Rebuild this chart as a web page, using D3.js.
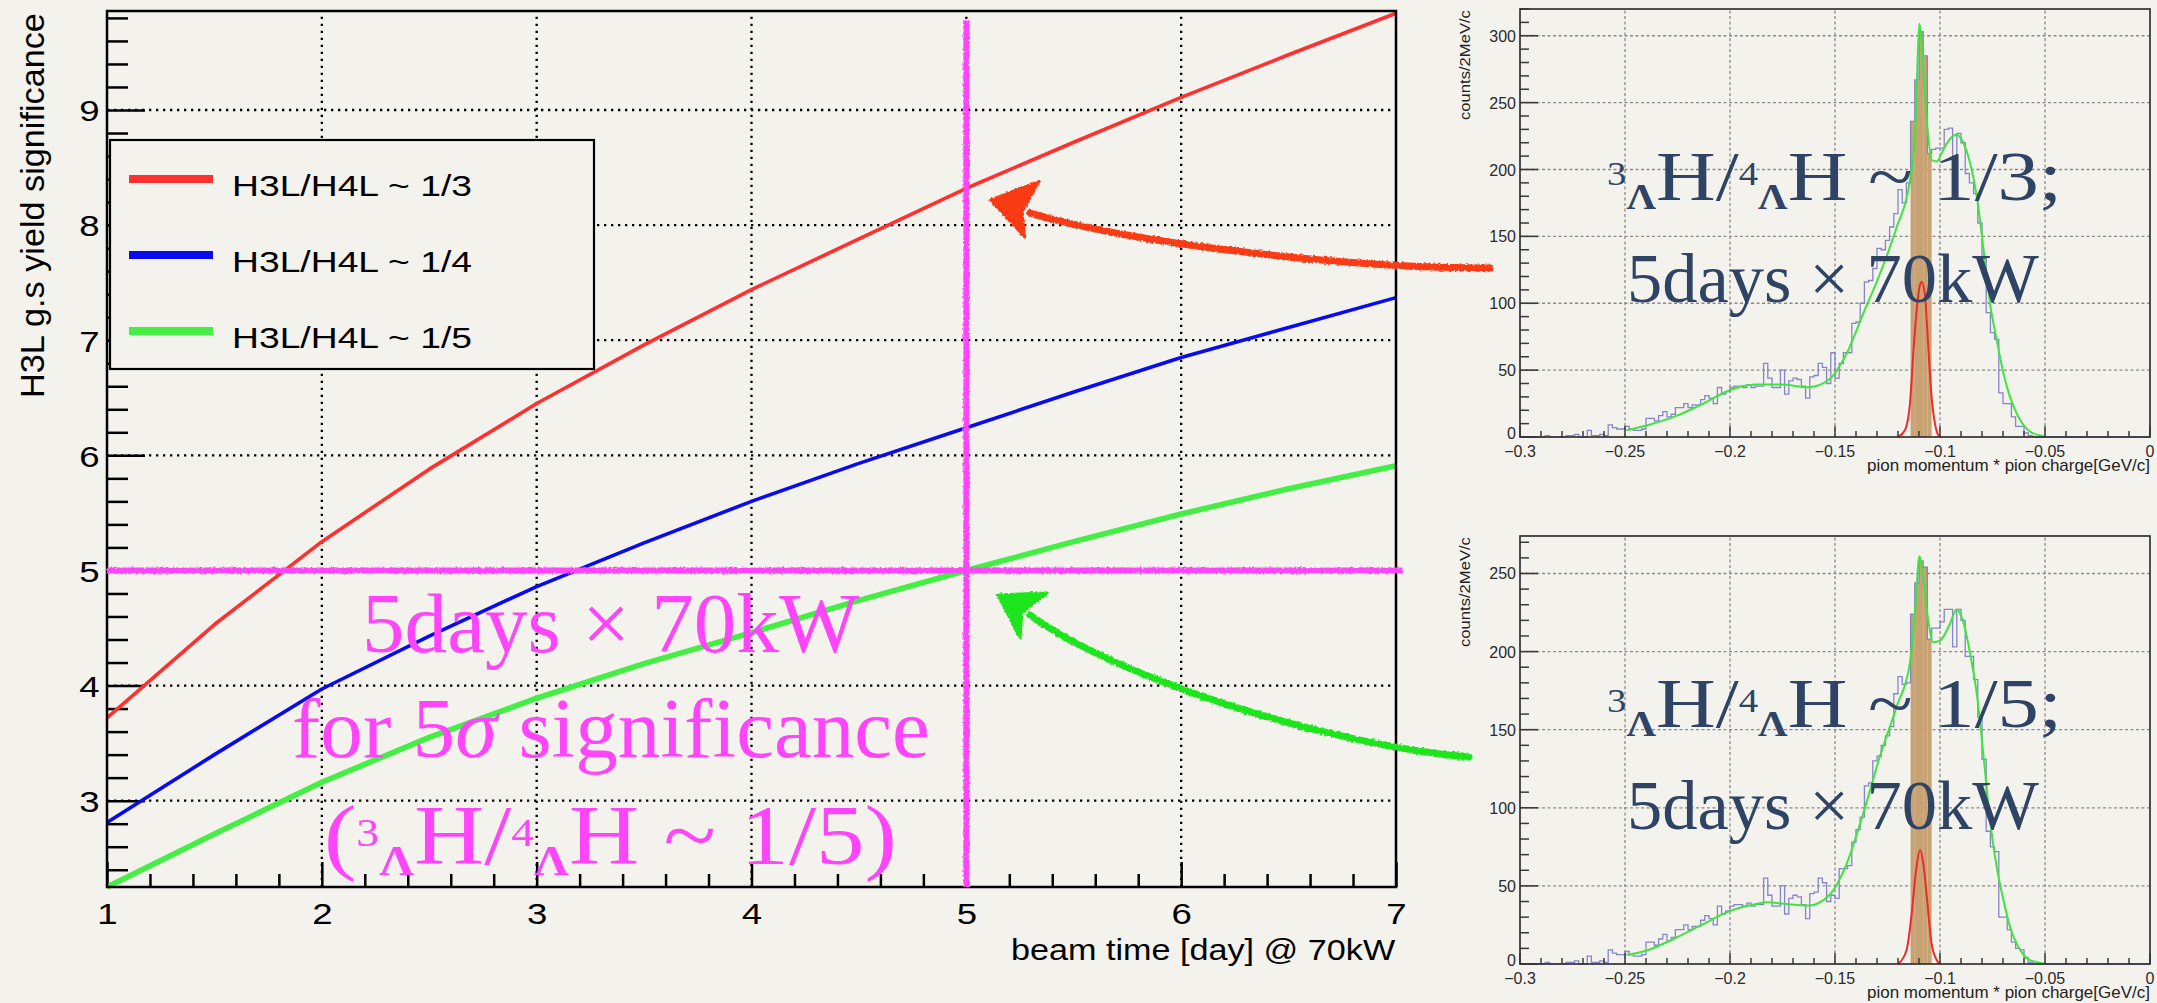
<!DOCTYPE html>
<html>
<head>
<meta charset="utf-8">
<script src="https://cdn.jsdelivr.net/npm/d3@7"></script>
<style>
  html, body { margin: 0; padding: 0; background: #f4f2ed; }
  svg { display: block; }
</style>
</head>
<body>
<svg id="chart" width="2157" height="1003"></svg>
<script>
// ---------------- significance vs beam time ----------------
const beamDays   = [1, 1.5, 2, 2.5, 3, 3.5, 4, 4.5, 5, 5.5, 6, 6.5, 7];
const sigRatio3  = [3.72, 4.53, 5.25, 5.88, 6.45, 6.96, 7.44, 7.88, 8.32, 8.72, 9.11, 9.48, 9.84];
const sigRatio4  = [2.81, 3.40, 3.97, 4.43, 4.86, 5.24, 5.60, 5.93, 6.24, 6.55, 6.85, 7.11, 7.37];
const sigRatio5  = [2.25, 2.71, 3.16, 3.55, 3.89, 4.19, 4.46, 4.74, 5.00, 5.25, 5.49, 5.71, 5.91];
const seriesLabels = ["H3L/H4L ~ 1/3", "H3L/H4L ~ 1/4", "H3L/H4L ~ 1/5"];
const dayTicks = [1, 2, 3, 4, 5, 6, 7];
const sigTicks = [3, 4, 5, 6, 7, 8, 9];
const targetDays = 5;
const targetSig = 5;

// ---------------- pion momentum spectra (2 MeV/c bins from -0.3 GeV/c) ----------------
const momStart = -0.3;
const momBin = 0.002;
const countsTop = [
  0,0,0,0,0,0,1,0,0,0,
  0,1,1,2,0,0,5,1,1,2,
  1,9,7,6,6,8,6,5,5,6,
  14,14,12,16,19,15,17,22,22,25,
  22,24,24,28,31,29,25,37,32,34,
  37,38,38,37,39,37,38,38,55,44,
  37,37,50,32,42,44,43,38,29,45,
  46,55,52,40,63,44,55,63,63,85,
  86,100,116,117,126,141,140,147,157,167,
  185,175,190,236,267,303,285,212,215,216,
  216,230,231,200,227,220,197,190,182,160,
  135,93,78,73,33,25,25,15,8,8,
  3,1,0,0,0,0,0,0,0,0,
  0,0,0,0,0,0,0,0,0,0,
  0,0,0,0,0,0,0,0,0,0
];
const countsBottom = [
  0,0,0,0,0,0,1,0,0,0,
  0,1,1,2,0,0,5,1,1,2,
  1,9,7,6,6,8,6,5,5,6,
  14,14,12,16,19,15,17,22,22,25,
  22,24,24,28,31,29,25,37,32,34,
  37,38,38,37,39,37,38,38,55,44,
  37,37,50,32,42,44,43,38,29,45,
  46,55,52,40,44,42,61,61,63,78,
  86,94,114,116,130,133,140,146,152,173,
  184,179,180,224,244,258,254,208,215,215,
  219,227,227,203,227,220,197,197,182,158,
  131,85,75,72,30,30,22,14,10,9,
  4,1,0,0,0,0,0,0,0,0,
  0,0,0,0,0,0,0,0,0,0,
  0,0,0,0,0,0,0,0,0,0
];
// selected signal window (GeV/c)
const signalWindow = [-0.114, -0.104];

// total fit curves [momentum, counts]
const fitTop = [
  [-0.2492,5.1],[-0.2389,9],[-0.2262,15.4],[-0.2135,24.4],[-0.2008,34.6],[-0.1881,39.2],
  [-0.1754,39.2],[-0.1627,37.2],[-0.1528,43],[-0.1444,62.6],[-0.1365,92.5],[-0.1286,122],
  [-0.1206,157],[-0.1143,192],[-0.1119,225],[-0.1103,296],[-0.1098,309],[-0.1090,300],
  [-0.1075,262],[-0.1063,237],[-0.1039,207],[-0.1016,206],[-0.0984,215],[-0.0952,223],
  [-0.0921,226],[-0.0889,220],[-0.0857,205],[-0.0825,180],[-0.0794,142],[-0.0762,100],
  [-0.0730,72.6],[-0.0698,47.6],[-0.0667,30],[-0.0635,17.7],[-0.0603,9],[-0.0571,4],[-0.0508,0.7]
];
const fitBottom = [
  [-0.2492,5.8],[-0.2389,9],[-0.2262,16.5],[-0.2135,25],[-0.2008,33.5],[-0.1881,38.2],
  [-0.1817,39.5],[-0.1754,38.7],[-0.1627,37.4],[-0.1528,44],[-0.1448,63],[-0.1365,96.6],
  [-0.1286,133],[-0.1206,165],[-0.1143,193],[-0.1119,225],[-0.1098,261],[-0.1087,255],
  [-0.1063,227],[-0.1032,206],[-0.1000,207],[-0.0952,218],[-0.0921,227],[-0.0889,219],
  [-0.0857,199],[-0.0825,173],[-0.0794,135],[-0.0762,92],[-0.0730,62],[-0.0698,41],
  [-0.0667,24],[-0.0635,13],[-0.0603,6],[-0.0571,2.5],[-0.0508,0.4]
];
// hypertriton signal component [momentum, counts]
const signalTop = [
  [-0.1200,0],[-0.1167,5],[-0.1143,25],[-0.1127,63],[-0.1111,95],[-0.1095,114],[-0.1087,116],
  [-0.1071,105],[-0.1056,68],[-0.1040,30],[-0.1024,10],[-0.1008,1.5],[-0.0995,0]
];
const signalBottom = [
  [-0.1200,0],[-0.1159,9],[-0.1135,32],[-0.1114,60],[-0.1095,73],[-0.1079,64],
  [-0.1060,39],[-0.1040,13],[-0.1016,2.6],[-0.1000,0]
];
const momTicks = [-0.3, -0.25, -0.2, -0.15, -0.1, -0.05, 0];
const momTickLabels = ["\u22120.3", "\u22120.25", "\u22120.2", "\u22120.15", "\u22120.1", "\u22120.05", "0"];
const countTicksTop = [0, 50, 100, 150, 200, 250, 300];
const countTicksBottom = [0, 50, 100, 150, 200, 250];

// ---------------- drawing ----------------
const W = 2157, H = 1003;
const BG = "#f4f2ed";
const SANS = "'Liberation Sans', Arial, Helvetica, sans-serif";
const SERIF = "'Liberation Serif', 'Times New Roman', serif";
const svg = d3.select("#chart");
svg.append("rect").attr("width", W).attr("height", H).attr("fill", BG);

const defs = svg.append("defs");
const rough = defs.append("filter").attr("id", "rough")
  .attr("filterUnits", "userSpaceOnUse").attr("x", 0).attr("y", 0).attr("width", W).attr("height", H);
rough.append("feTurbulence").attr("type", "fractalNoise").attr("baseFrequency", 0.45)
  .attr("numOctaves", 2).attr("seed", 5).attr("result", "noise");
rough.append("feDisplacementMap").attr("in", "SourceGraphic").attr("in2", "noise")
  .attr("scale", 3.5).attr("xChannelSelector", "R").attr("yChannelSelector", "G");

// text placed from its left edge and stretched to a given width
function fitText(parent, x0, yb, width, build) {
  const g = parent.append("g");
  const t = g.append("text").attr("x", 0).attr("y", 0);
  build(t);
  const w = t.node().getBBox().width;
  g.attr("transform", `translate(${x0},${yb}) scale(${width / w},1)`);
  return t;
}
// isotope notation with super/subscripts
function richText(t, segs, F) {
  let level = 0;
  segs.forEach(seg => {
    const target = seg.k === "sup" ? -0.21 * F : seg.k === "sub" ? 0.13 * F : 0;
    const ts = t.append("tspan").text(seg.s).attr("dy", target - level);
    level = target;
    if (seg.k === "sup") ts.attr("font-size", 0.47 * F);
    if (seg.k === "sub") ts.attr("font-size", 0.5 * F).attr("font-weight", "bold");
    if (seg.k === "it") ts.attr("font-style", "italic");
  });
}
function isotopeSegs(prefix, ratio, suffix) {
  return [
    ...(prefix ? [{ s: prefix }] : []),
    { s: "3", k: "sup" }, { s: "\u039B", k: "sub" }, { s: "H/" },
    { s: "4", k: "sup" }, { s: "\u039B", k: "sub" }, { s: "H ~ " + ratio + suffix }
  ];
}

// ===== main graph =====
const x = d3.scaleLinear().domain([1, 7]).range([107, 1396]);
const y = d3.scaleLinear().domain([2.25, 9.86]).range([887, 11]);
const main = svg.append("g");

// dotted grid
main.append("g").selectAll("line").data(dayTicks.slice(1, -1)).join("line")
  .attr("x1", d => x(d)).attr("x2", d => x(d)).attr("y1", y(2.25)).attr("y2", y(9.86))
  .attr("stroke", "#000").attr("stroke-width", 2.3).attr("stroke-dasharray", "2.3 4.7");
main.append("g").selectAll("line").data(sigTicks).join("line")
  .attr("x1", x(1)).attr("x2", x(7)).attr("y1", d => y(d)).attr("y2", d => y(d))
  .attr("stroke", "#000").attr("stroke-width", 2.3).attr("stroke-dasharray", "2.3 4.7");

// axes (ticks pointing inward)
const minorDays = d3.range(1, 7.0001, 0.2).filter(v => Math.abs(v - Math.round(v)) > 1e-6);
const minorSig = d3.range(2.4, 9.86, 0.2).filter(v => Math.abs(v - Math.round(v)) > 1e-6);
function styleAxis(g) {
  g.select(".domain").remove();
  g.selectAll("line").attr("stroke", "#000").attr("stroke-width", 2.5);
}
const gxMinor = main.append("g").attr("transform", `translate(0,${y(2.25)})`)
  .call(d3.axisBottom(x).tickValues(minorDays).tickSizeInner(-13).tickSizeOuter(0).tickFormat(""));
styleAxis(gxMinor);
const gx = main.append("g").attr("transform", `translate(0,${y(2.25)})`)
  .call(d3.axisBottom(x).tickValues(dayTicks).tickSizeInner(-25).tickSizeOuter(0).tickPadding(16).tickFormat(d3.format("d")));
styleAxis(gx);
gx.selectAll("text").attr("font-family", SANS).attr("font-size", 30).attr("fill", "#000")
  .attr("transform", "scale(1.22,1)");
const gyMinor = main.append("g").attr("transform", `translate(${x(1)},0)`)
  .call(d3.axisLeft(y).tickValues(minorSig).tickSizeInner(-21).tickSizeOuter(0).tickFormat(""));
styleAxis(gyMinor);
const gy = main.append("g").attr("transform", `translate(${x(1)},0)`)
  .call(d3.axisLeft(y).tickValues(sigTicks).tickSizeInner(-38).tickSizeOuter(0).tickPadding(6).tickFormat(d3.format("d")));
styleAxis(gy);
gy.selectAll("text").attr("font-family", SANS).attr("font-size", 30).attr("fill", "#000")
  .attr("dy", "0.36em").attr("transform", "scale(1.22,1)");

// curves
const series = [
  { vals: sigRatio3, color: "#ff3030", width: 3.6 },
  { vals: sigRatio4, color: "#0a0aee", width: 3.6 },
  { vals: sigRatio5, color: "#44ee44", width: 5.6 }
];
const line = d3.line().x(d => x(d[0])).y(d => y(d[1]));
main.append("g").selectAll("path").data(series).join("path")
  .attr("d", s => line(beamDays.map((d, i) => [d, s.vals[i]])))
  .attr("fill", "none").attr("stroke", s => s.color).attr("stroke-width", s => s.width)
  .attr("stroke-linejoin", "round");

// frame
main.append("rect").attr("x", x(1)).attr("y", y(9.86)).attr("width", x(7) - x(1)).attr("height", y(2.25) - y(9.86))
  .attr("fill", "none").attr("stroke", "#000").attr("stroke-width", 2.5);

// axis titles
fitText(main, 1011, 960, 385, t => t.text("beam time [day] @ 70kW")
  .attr("font-family", SANS).attr("font-size", 29).attr("fill", "#000"));
{
  const g = main.append("g");
  const t = g.append("text").attr("x", 0).attr("y", 0).text("H3L g.s yield significance")
    .attr("font-family", SANS).attr("font-size", 33).attr("fill", "#000");
  const w = t.node().getBBox().width;
  g.attr("transform", `translate(44,${13 + 385}) rotate(-90) scale(${385 / w},1)`);
}

// legend
const legend = main.append("g");
legend.append("rect").attr("x", 110).attr("y", 140).attr("width", 484).attr("height", 229)
  .attr("fill", BG).attr("stroke", "#000").attr("stroke-width", 2.2);
series.forEach((s, i) => {
  const ly = 179 + i * 76;
  legend.append("line").attr("x1", 129).attr("x2", 213).attr("y1", ly).attr("y2", ly)
    .attr("stroke", s.color).attr("stroke-width", 8);
  fitText(legend, 232, ly + 17, 240, t => t.text(seriesLabels[i])
    .attr("font-family", SANS).attr("font-size", 30).attr("fill", "#000"));
});

// 5 sigma / 5 days guide lines
const MAG = "#ff45fb";
const guides = main.append("g").attr("filter", "url(#rough)");
guides.append("line").attr("x1", x(1)).attr("x2", x(7.03)).attr("y1", y(targetSig)).attr("y2", y(targetSig))
  .attr("stroke", MAG).attr("stroke-width", 6);
guides.append("line").attr("x1", x(targetDays)).attr("x2", x(targetDays)).attr("y1", y(2.25)).attr("y2", y(9.78))
  .attr("stroke", MAG).attr("stroke-width", 6);

// overlay statement
const MF = 84;
fitText(main, 362, 652, 498, t => t.text("5days \u00D7 70kW")
  .attr("font-family", SERIF).attr("font-size", MF).attr("fill", MAG));
fitText(main, 292, 757, 638, t => {
  t.attr("font-family", SERIF).attr("font-size", MF).attr("fill", MAG);
  richText(t, [{ s: "for 5" }, { s: "\u03C3", k: "it" }, { s: " significance" }], MF);
});
fitText(main, 324, 864, 573, t => {
  t.attr("font-family", SERIF).attr("font-size", MF).attr("fill", MAG);
  richText(t, isotopeSegs("(", "1/5", ")"), MF);
});

// hand-drawn arrows (annotation geometry in graph units)
const arrows = [
  { color: "#fb3a12", p0: [7.438, 7.627], c1: [6.786, 7.627], c2: [5.808, 7.827], p3: [5.296, 8.105],
    head: [[5.114, 8.218], [5.337, 8.377], [5.258, 8.115], [5.272, 7.897]] },
  { color: "#1ee51e", p0: [7.340, 3.379], c1: [6.693, 3.484], c2: [5.715, 4.049], p3: [5.296, 4.613],
    head: [[5.148, 4.787], [5.376, 4.804], [5.259, 4.639], [5.250, 4.413]] }
];
const arrowG = svg.append("g").attr("filter", "url(#rough)");
arrows.forEach(a => {
  const p = d3.path();
  p.moveTo(x(a.p0[0]), y(a.p0[1]));
  p.bezierCurveTo(x(a.c1[0]), y(a.c1[1]), x(a.c2[0]), y(a.c2[1]), x(a.p3[0]), y(a.p3[1]));
  arrowG.append("path").attr("d", p.toString()).attr("fill", "none")
    .attr("stroke", a.color).attr("stroke-width", 7).attr("stroke-linecap", "round");
  arrowG.append("path").attr("d", d3.line()(a.head.map(h => [x(h[0]), y(h[1])])) + "Z")
    .attr("fill", a.color).attr("stroke", a.color).attr("stroke-width", 3).attr("stroke-linejoin", "round");
});

// ===== spectra panels =====
const panels = [
  { counts: countsTop, fit: fitTop, signal: signalTop, yMax: 320, top: 9, bottom: 437, ticks: countTicksTop, ratio: "1/3" },
  { counts: countsBottom, fit: fitBottom, signal: signalBottom, yMax: 274, top: 536, bottom: 964, ticks: countTicksBottom, ratio: "1/5" }
];
const SLATE = "#2f4464";
panels.forEach(pn => {
  const g = svg.append("g");
  const hx = d3.scaleLinear().domain([-0.3, 0]).range([1520, 2150]);
  const hy = d3.scaleLinear().domain([0, pn.yMax]).range([pn.bottom, pn.top]);

  // grid
  g.append("g").selectAll("line").data(momTicks.slice(1, -1)).join("line")
    .attr("x1", d => hx(d)).attr("x2", d => hx(d)).attr("y1", hy(0)).attr("y2", hy(pn.yMax))
    .attr("stroke", "#8a8a8a").attr("stroke-width", 1.3).attr("stroke-dasharray", "3 2.5");
  g.append("g").selectAll("line").data(pn.ticks.slice(1)).join("line")
    .attr("x1", hx(-0.3)).attr("x2", hx(0)).attr("y1", d => hy(d)).attr("y2", d => hy(d))
    .attr("stroke", "#8a8a8a").attr("stroke-width", 1.3).attr("stroke-dasharray", "3 2.5");

  const bins = pn.counts.map((c, i) => ({ lo: momStart + i * momBin, c }));
  // selected window fill
  g.append("g").selectAll("rect")
    .data(bins.filter(b => b.lo >= signalWindow[0] - 1e-9 && b.lo + momBin <= signalWindow[1] + 1e-9))
    .join("rect")
    .attr("x", b => hx(b.lo)).attr("width", b => hx(b.lo + momBin) - hx(b.lo))
    .attr("y", b => hy(b.c)).attr("height", b => hy(0) - hy(b.c))
    .attr("fill", "#c9a273");
  // histogram outline
  const stepPts = bins.map(b => [b.lo, b.c]).concat([[0, bins[bins.length - 1].c]]);
  g.append("path")
    .attr("d", d3.line().curve(d3.curveStepAfter).x(d => hx(d[0])).y(d => hy(d[1]))(stepPts))
    .attr("fill", "none").attr("stroke", "#8585cc").attr("stroke-width", 1.3);
  // fit and signal
  const smooth = d3.line().curve(d3.curveMonotoneX).x(d => hx(d[0])).y(d => hy(d[1]));
  g.append("path").attr("d", smooth(pn.signal)).attr("fill", "none")
    .attr("stroke", "#ee2a2a").attr("stroke-width", 2);
  g.append("path").attr("d", smooth(pn.fit)).attr("fill", "none")
    .attr("stroke", "#3fe43f").attr("stroke-width", 2);

  // ticks
  const minorMom = d3.range(-0.29, -0.0001, 0.01).filter(v => Math.abs(v * 20 - Math.round(v * 20)) > 1e-6);
  g.append("g").selectAll("line").data(minorMom).join("line")
    .attr("x1", d => hx(d)).attr("x2", d => hx(d)).attr("y1", hy(0)).attr("y2", hy(0) - 6)
    .attr("stroke", "#3a3a3a").attr("stroke-width", 1.5);
  g.append("g").selectAll("line").data(momTicks).join("line")
    .attr("x1", d => hx(d)).attr("x2", d => hx(d)).attr("y1", hy(0)).attr("y2", hy(0) - 11)
    .attr("stroke", "#3a3a3a").attr("stroke-width", 1.5);
  const minorCounts = d3.range(10, pn.yMax + 0.1, 10).filter(v => v % 50 !== 0);
  g.append("g").selectAll("line").data(minorCounts).join("line")
    .attr("x1", hx(-0.3)).attr("x2", hx(-0.3) + 9).attr("y1", d => hy(d)).attr("y2", d => hy(d))
    .attr("stroke", "#3a3a3a").attr("stroke-width", 1.5);
  g.append("g").selectAll("line").data(pn.ticks).join("line")
    .attr("x1", hx(-0.3)).attr("x2", hx(-0.3) + 18).attr("y1", d => hy(d)).attr("y2", d => hy(d))
    .attr("stroke", "#3a3a3a").attr("stroke-width", 1.6);

  g.append("rect").attr("x", hx(-0.3)).attr("y", hy(pn.yMax)).attr("width", hx(0) - hx(-0.3))
    .attr("height", hy(0) - hy(pn.yMax)).attr("fill", "none").attr("stroke", "#333").attr("stroke-width", 1.7);

  // tick labels
  g.append("g").selectAll("text").data(momTicks).join("text")
    .attr("x", d => hx(d)).attr("y", hy(0) + 20).attr("text-anchor", "middle")
    .attr("font-family", SANS).attr("font-size", 16).attr("fill", "#2a2a2a")
    .text((d, i) => momTickLabels[i]);
  g.append("g").selectAll("text").data(pn.ticks).join("text")
    .attr("x", hx(-0.3) - 4).attr("y", d => hy(d) + (d === 0 ? 2 : 6)).attr("text-anchor", "end")
    .attr("font-family", SANS).attr("font-size", 16).attr("fill", "#2a2a2a")
    .text(d => d);

  // axis titles
  fitText(g, 2150 - 283, hy(0) + 34, 283, t => t.text("pion momentum * pion charge[GeV/c]")
    .attr("font-family", SANS).attr("font-size", 16).attr("fill", "#222"));
  {
    const tg = g.append("g");
    const t = tg.append("text").attr("x", 0).attr("y", 0).text("counts/2MeV/c")
      .attr("font-family", SANS).attr("font-size", 14).attr("fill", "#222");
    const w = t.node().getBBox().width;
    tg.attr("transform", `translate(1470,${pn.top + 1 + 110}) rotate(-90) scale(${110 / w},1)`);
  }

  // overlay statement
  const SF = 70;
  fitText(g, 1607, pn.top + 191, 455, t => {
    t.attr("font-family", SERIF).attr("font-size", SF).attr("fill", SLATE);
    richText(t, isotopeSegs("", pn.ratio, ";"), SF);
  });
  fitText(g, 1627, pn.top + 293, 412, t => t.text("5days \u00D7 70kW")
    .attr("font-family", SERIF).attr("font-size", SF).attr("fill", SLATE));
});
</script>
</body>
</html>
